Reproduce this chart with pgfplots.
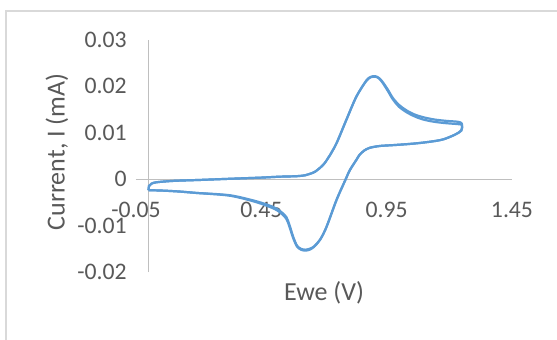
\documentclass[border=0pt]{standalone}
\usepackage{pgfplots}
\pgfplotsset{compat=1.18}
\usepackage{fontspec}
\setmainfont{Carlito}
\definecolor{cvblue}{HTML}{5B9BD5}
\definecolor{txtgray}{HTML}{595959}
\definecolor{axgray}{HTML}{BFBFBF}
\definecolor{bordergray}{HTML}{D9D9D9}
\begin{document}
\begin{tikzpicture}
\useasboundingbox (-68pt,-33.5pt) rectangle (210.5pt,136pt);
\fill[white] (-68pt,-33.5pt) rectangle (210.5pt,136pt);
\draw[bordergray, line width=1.4pt] (-65pt,-34pt) -- (-65pt,130.5pt) -- (211pt,130.5pt);
\begin{axis}[
  at={(0,0)}, anchor=south west,
  scale only axis, width=188pt, height=116.25pt,
  xmin=-0.05, xmax=1.45, ymin=-0.02, ymax=0.03,
  axis line style={draw=none},
  tick style={draw=none},
  xtick={-0.05,0.45,0.95,1.45},
  xticklabels={-0.05,0.45,0.95,1.45},
  ytick={-0.02,-0.01,0,0.01,0.02,0.03},
  yticklabels={-0.02,-0.01,0,0.01,0.02,0.03},
  scaled x ticks=false, scaled y ticks=false,
  ticklabel style={font=\fontsize{11.85}{14}\selectfont, text=txtgray, inner sep=0pt},
  xticklabel style={anchor=center, yshift=31pt},
  yticklabel style={anchor=east, xshift=-4.5pt},
  clip=false,
]
\draw[axgray, line width=0.5pt] (axis cs:0,-0.02) -- (axis cs:0,0.03);
\draw[axgray, line width=0.5pt] (axis cs:-0.05,0) -- (axis cs:1.45,0);
\addplot[cvblue, line width=1.1pt, smooth, tension=0.5] coordinates {
(0.000,-0.0024) (0.002,-0.0015) (0.012,-0.0010) (0.032,-0.0007) (0.10,-0.0004)
(0.205,-0.0002) (0.35,0.0001) (0.45,0.0003) (0.524,0.0005) (0.590,0.0006)
(0.625,0.0008) (0.643,0.0011) (0.665,0.0016) (0.696,0.0030) (0.72,0.0048)
(0.750,0.0077) (0.789,0.0127) (0.829,0.0177) (0.869,0.0212) (0.888,0.0220)
(0.905,0.0221) (0.92,0.0217) (0.935,0.0208) (0.955,0.0192) (0.975,0.0174)
(1.0,0.0159) (1.028,0.0148) (1.06,0.0139) (1.095,0.0133) (1.14,0.0128)
(1.188,0.0125) (1.235,0.0123) (1.25,0.0119)
(1.248,0.0105) (1.221,0.0095) (1.174,0.0085) (1.121,0.0080) (1.055,0.0076)
(0.98,0.0073) (0.922,0.0071) (0.882,0.0067) (0.860,0.0061) (0.842,0.0052)
(0.829,0.0041) (0.803,0.0019) (0.787,0.0) (0.750,-0.0045) (0.710,-0.0103)
(0.685,-0.0130) (0.660,-0.0145) (0.643,-0.0150) (0.625,-0.0152) (0.608,-0.0150)
(0.592,-0.0143) (0.577,-0.0124) (0.563,-0.0100) (0.550,-0.0082) (0.525,-0.0069)
(0.497,-0.0060) (0.431,-0.0048) (0.325,-0.0035) (0.192,-0.0030) (0.125,-0.0027)
(0.059,-0.0025) (0.000,-0.0024)
};
\addplot[cvblue, line width=1.1pt, smooth, tension=0.5] coordinates {
(0.000,-0.0024) (0.002,-0.0015) (0.012,-0.0010) (0.032,-0.0007) (0.10,-0.0004)
(0.205,-0.0002) (0.35,0.0001) (0.45,0.0003) (0.524,0.0005) (0.590,0.0006)
(0.625,0.0008) (0.643,0.0011) (0.665,0.0016) (0.696,0.0030) (0.72,0.0048)
(0.750,0.0077) (0.789,0.0127) (0.829,0.0177) (0.869,0.0211) (0.888,0.0219)
(0.905,0.0220) (0.92,0.0216) (0.935,0.0206) (0.955,0.0189) (0.975,0.0171)
(1.0,0.0155) (1.028,0.0144) (1.06,0.0135) (1.095,0.0128) (1.14,0.0123)
(1.188,0.0120) (1.235,0.0118) (1.25,0.0116)
(1.248,0.0104) (1.221,0.0095) (1.174,0.0085) (1.121,0.0080) (1.055,0.0076)
(0.98,0.0073) (0.922,0.0071) (0.882,0.0067) (0.860,0.0061) (0.842,0.0052)
(0.829,0.0041) (0.803,0.0019) (0.787,0.0) (0.750,-0.0045) (0.710,-0.0103)
(0.685,-0.0130) (0.660,-0.0146) (0.643,-0.0152) (0.625,-0.0154) (0.608,-0.0152)
(0.592,-0.0145) (0.577,-0.0127) (0.563,-0.0104) (0.550,-0.0086) (0.525,-0.0072)
(0.497,-0.0063) (0.431,-0.0050) (0.325,-0.0036) (0.192,-0.0030) (0.125,-0.0027)
(0.059,-0.0025) (0.000,-0.0024)
};
\end{axis}
\node[text=txtgray, font=\fontsize{13}{15}\selectfont, rotate=90, inner sep=0pt] at (-39.5pt,60pt) {Current, I (mA)};
\node[text=txtgray, font=\fontsize{13}{15}\selectfont, inner sep=0pt] at (94pt,-10.5pt) {Ewe (V)};
\end{tikzpicture}
\end{document}
